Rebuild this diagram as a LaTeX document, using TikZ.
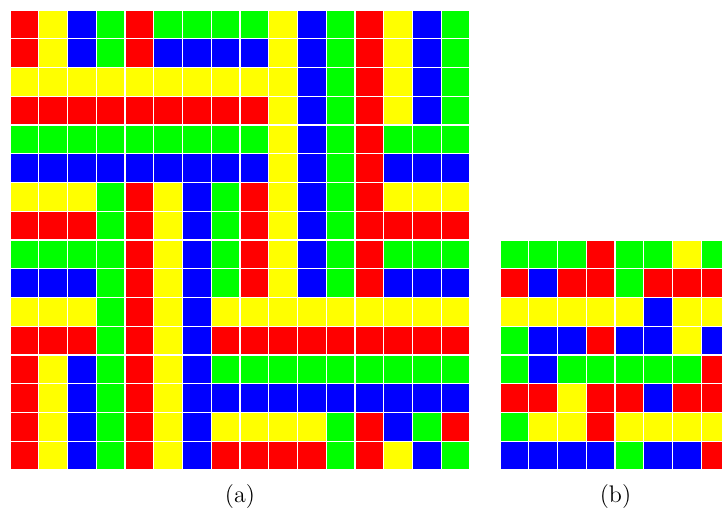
\documentclass[tikz,border=0pt]{standalone}
\definecolor{cR}{RGB}{255,0,0}
\definecolor{cY}{RGB}{255,255,0}
\definecolor{cB}{RGB}{0,0,255}
\definecolor{cG}{RGB}{0,255,0}
\begin{document}
\begin{tikzpicture}[x=0.5pt,y=-0.5pt,
  cell/.style={draw=white, line width=0.55pt},
  caption/.style={font=\fontsize{12}{14}\selectfont, inner sep=0pt}]
\useasboundingbox (0,0) rectangle (722,514);
\begin{scope}
\clip (0,0) rectangle (722,514);
% grid (a)
\foreach \row [count=\j from 0] in {
 {R,Y,B,G,R,G,G,G,G,Y,B,G,R,Y,B,G},
 {R,Y,B,G,R,B,B,B,B,Y,B,G,R,Y,B,G},
 {Y,Y,Y,Y,Y,Y,Y,Y,Y,Y,B,G,R,Y,B,G},
 {R,R,R,R,R,R,R,R,R,Y,B,G,R,Y,B,G},
 {G,G,G,G,G,G,G,G,G,Y,B,G,R,G,G,G},
 {B,B,B,B,B,B,B,B,B,Y,B,G,R,B,B,B},
 {Y,Y,Y,G,R,Y,B,G,R,Y,B,G,R,Y,Y,Y},
 {R,R,R,G,R,Y,B,G,R,Y,B,G,R,R,R,R},
 {G,G,G,G,R,Y,B,G,R,Y,B,G,R,G,G,G},
 {B,B,B,G,R,Y,B,G,R,Y,B,G,R,B,B,B},
 {Y,Y,Y,G,R,Y,B,Y,Y,Y,Y,Y,Y,Y,Y,Y},
 {R,R,R,G,R,Y,B,R,R,R,R,R,R,R,R,R},
 {R,Y,B,G,R,Y,B,G,G,G,G,G,G,G,G,G},
 {R,Y,B,G,R,Y,B,B,B,B,B,B,B,B,B,B},
 {R,Y,B,G,R,Y,B,Y,Y,Y,Y,G,R,B,G,R},
 {R,Y,B,G,R,Y,B,R,R,R,R,G,R,Y,B,G}} {
  \foreach \c [count=\i from 0] in \row {
    \path[cell, fill=c\c] ({10+\i*28.75},{10+\j*28.75}) rectangle ++(28.75,28.75);
  }
}
% grid (b)
\foreach \row [count=\j from 0] in {
 {G,G,G,R,G,G,Y,G},
 {R,B,R,R,G,R,R,R},
 {Y,Y,Y,Y,Y,B,Y,Y},
 {G,B,B,R,B,B,Y,B},
 {G,B,G,G,G,G,G,R},
 {R,R,Y,R,R,B,R,R},
 {G,Y,Y,R,Y,Y,Y,Y},
 {B,B,B,B,G,B,B,R}} {
  \foreach \c [count=\i from 0] in \row {
    \path[cell, fill=c\c] ({500+\i*28.75},{240+\j*28.75}) rectangle ++(28.75,28.75);
  }
}
\end{scope}
\node[caption] (la) at (240,497) {(a)};
\node[caption] (lb) at (615.5,497) {(b)};
\end{tikzpicture}
\end{document}
